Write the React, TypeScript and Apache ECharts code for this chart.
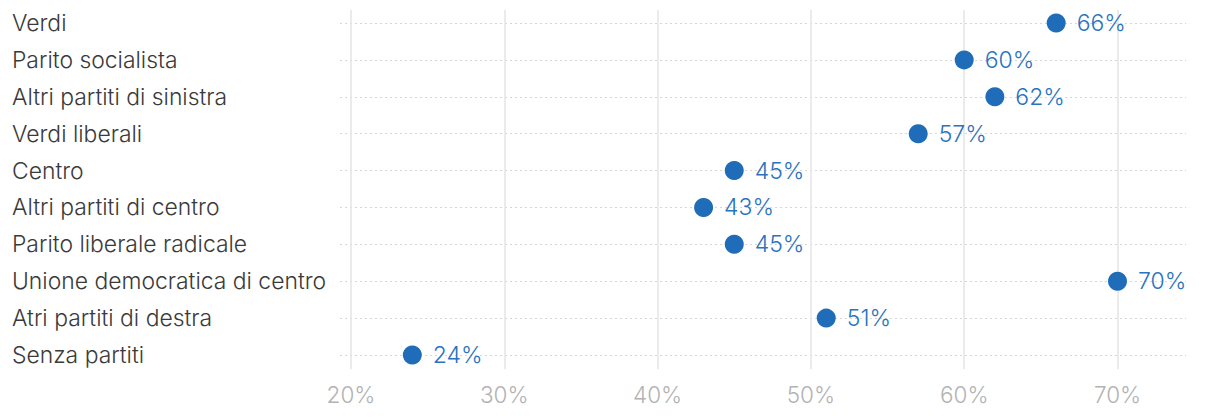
import React, { useEffect, useRef } from "react";
import * as echarts from "echarts";

const categories = [
  "Verdi",
  "Parito socialista",
  "Altri partiti di sinistra",
  "Verdi liberali",
  "Centro",
  "Altri partiti di centro",
  "Parito liberale radicale",
  "Unione democratica di centro",
  "Atri partiti di destra",
  "Senza partiti",
];
const values = [66, 60, 62, 57, 45, 43, 45, 70, 51, 24];
const tickValues = [20, 30, 40, 50, 60, 70];

export default function App() {
  const ref = useRef<HTMLDivElement>(null);
  useEffect(() => {
    if (!ref.current) return;
    const chart = echarts.init(ref.current, undefined, { renderer: "svg" });
    const pxPerUnit = (1117.5 - 351) / 50;
    const leftPx = 340;
    const rightPx = 1186;
    const xMin = 20 - (351 - leftPx) / pxPerUnit;
    const xMax = 70 + (rightPx - 1117.5) / pxPerUnit;
    const font = "Inter, 'Noto Sans', sans-serif";
    chart.setOption({
      animation: false,
      grid: [
        { left: leftPx, right: 1220 - rightPx, top: 23, bottom: 418 - 355, containLabel: false },
        { left: 351, width: 1117.5 - 351, top: 10, height: 359, containLabel: false },
      ],
      xAxis: [
        {
          gridIndex: 0,
          type: "value",
          min: xMin,
          max: xMax,
          show: true,
          axisLine: { show: false },
          axisTick: { show: false },
          axisLabel: { show: false },
          splitLine: { show: false },
        },
        {
          gridIndex: 1,
          type: "value",
          min: tickValues[0],
          max: tickValues[tickValues.length - 1],
          interval: 10,
          axisLine: { show: false },
          axisTick: { show: false },
          axisLabel: {
            formatter: (v: number) => `${v}%`,
            color: "#b3b3b3",
            fontSize: 22.5,
            fontFamily: font,
            fontWeight: 300,
            margin: 14,
          },
          splitLine: { show: true, lineStyle: { color: "#e4e4e4", width: 1.5 } },
          z: 0,
        },
      ],
      yAxis: [
        {
          gridIndex: 0,
          type: "category",
          data: categories,
          inverse: true,
          boundaryGap: false,
          axisLine: { show: false },
          axisTick: { show: false },
          axisLabel: {
            align: "left",
            margin: leftPx - 12,
            color: "#3a3a3a",
            fontSize: 22.9,
            fontFamily: font,
            fontWeight: 300,
          },
          splitLine: { show: true, lineStyle: { color: "#d6d6d6", type: [2, 3], width: 1 } },
        },
        {
          gridIndex: 1,
          type: "value",
          show: false,
          min: 0,
          max: 1,
        },
      ],
      series: [
        {
          type: "scatter",
          xAxisIndex: 0,
          yAxisIndex: 0,
          data: values,
          symbol: "circle",
          symbolSize: 19,
          itemStyle: { color: "#1f6db8", opacity: 1 },
          label: {
            show: true,
            position: "right",
            distance: 11,
            formatter: (p: any) => `${p.value}%`,
            color: "#2a73c0",
            fontSize: 23,
            fontFamily: font,
            fontWeight: 300,
          },
          z: 5,
        },
      ],
    });
    return () => chart.dispose();
  }, []);
  return <div ref={ref} style={{ width: 1220, height: 418, position: "absolute", left: 0, top: 0 }} />;
}
